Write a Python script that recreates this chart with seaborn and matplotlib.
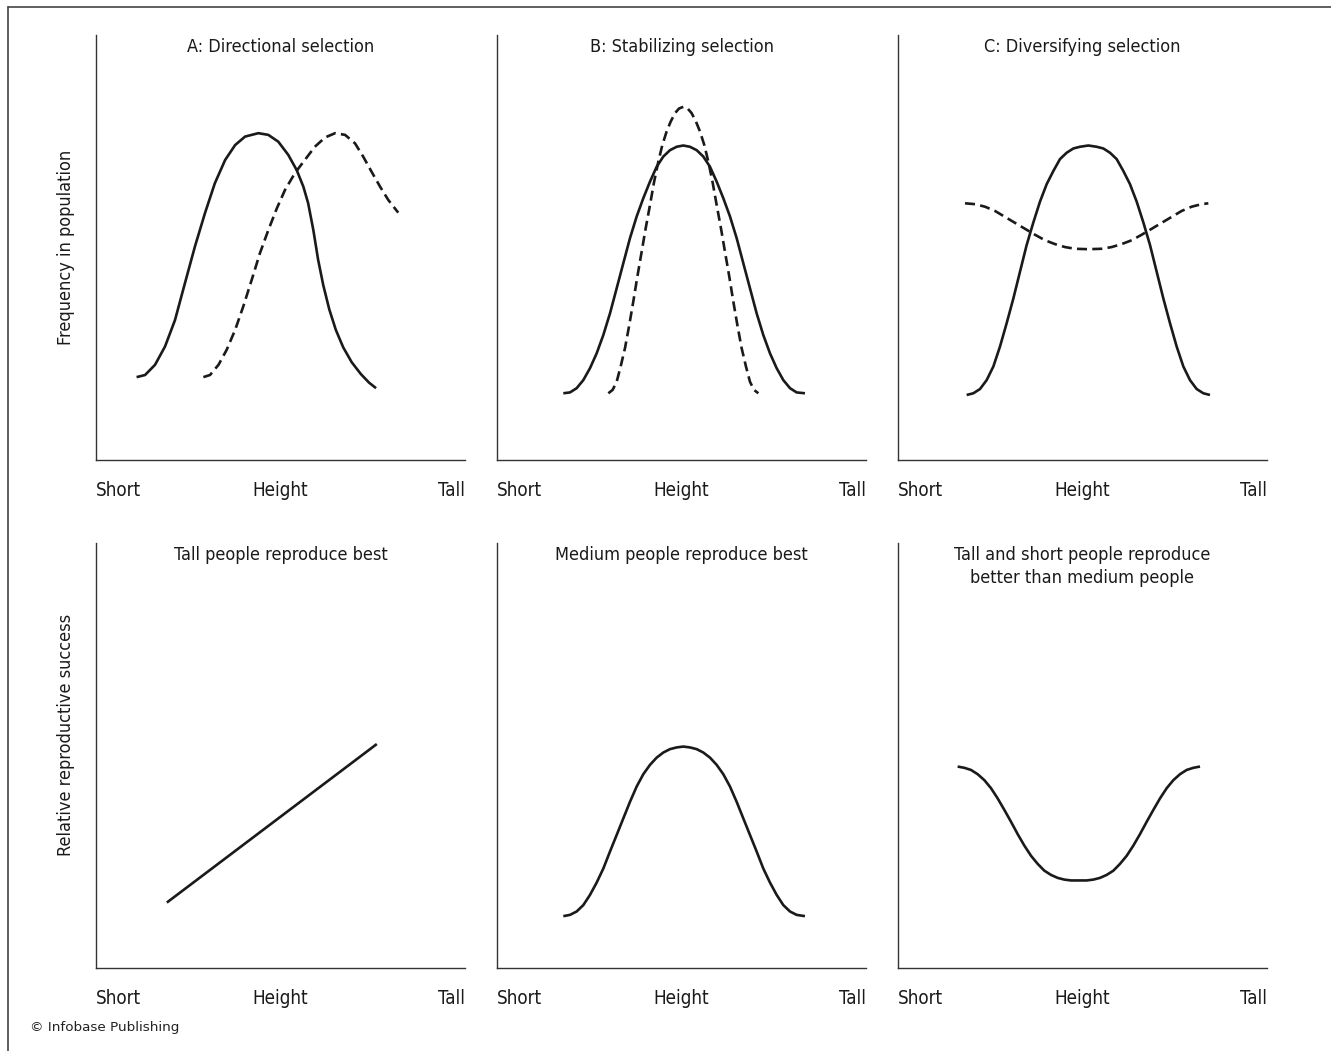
import matplotlib
matplotlib.use("Agg")
import matplotlib.pyplot as plt
from matplotlib.lines import Line2D
import seaborn as sns
import pandas as pd

# Height axis runs 0 (short) .. 100 (tall); y axis is a relative 0..100 scale.

# --- A: Directional selection ---------------------------------------------
a_before_x = [11.0, 13.3, 16.0, 18.7, 21.4, 24.1, 26.8, 29.5, 32.2, 35.0,
              37.7, 40.4, 44.0, 46.7, 49.4, 52.1, 54.4, 56.2, 57.5, 58.9,
              60.2, 61.6, 63.2, 65.0, 67.0, 69.3, 71.8, 74.0, 75.9]
a_before_y = [19.5, 20.0, 22.4, 26.7, 32.9, 41.6, 50.2, 58.0, 65.1, 70.6,
              74.1, 76.1, 76.9, 76.5, 74.9, 71.8, 68.2, 64.3, 60.4, 54.1,
              47.1, 41.1, 35.5, 30.6, 26.5, 23.0, 20.2, 18.2, 16.9]
a_after_x = [29.1, 30.9, 33.2, 35.4, 37.7, 39.9, 42.2, 44.4, 46.7, 49.0,
             51.2, 53.9, 56.6, 59.3, 62.1, 64.8, 67.5, 70.2, 72.4, 74.7,
             77.0, 79.2, 81.9]
a_after_y = [19.5, 20.0, 22.4, 25.9, 30.6, 36.1, 42.4, 48.6, 54.1, 59.2,
             63.5, 67.5, 70.6, 73.7, 75.9, 76.9, 76.5, 74.5, 71.4, 67.8,
             64.3, 61.2, 58.2]

# --- B: Stabilizing selection ---------------------------------------------
b_before_x = [17.97, 19.78, 21.59, 23.39, 25.20, 27.01, 28.81, 30.62, 32.43,
              34.23, 36.04, 37.85, 39.65, 41.46, 43.27, 45.07, 46.88, 48.69,
              50.49, 52.30, 54.11, 55.91, 57.72, 59.53, 61.33, 63.14, 64.95,
              66.75, 68.56, 70.37, 72.17, 73.98, 75.79, 77.59, 79.40, 81.20,
              83.46]
b_before_y = [15.7, 15.9, 16.9, 18.8, 21.6, 25.1, 29.4, 34.5, 40.4,
              46.3, 52.2, 57.3, 61.6, 65.5, 69.0, 71.4, 72.9, 73.7,
              74.0, 73.7, 72.9, 71.4, 69.0, 65.5, 61.6, 57.3, 52.2,
              46.3, 40.4, 34.5, 29.4, 25.1, 21.6, 18.8, 16.9, 15.9,
              15.7]
b_after_x = [30.17, 31.34, 32.43, 33.51, 34.68, 35.77, 36.94, 38.03, 39.20,
             40.29, 41.46, 42.54, 43.72, 44.80, 45.97, 47.06, 48.23, 49.32,
             50.49, 51.67, 52.75, 53.93, 55.01, 56.18, 57.27, 58.44, 59.53,
             60.70, 61.78, 62.96, 64.04, 65.21, 66.30, 67.47, 68.56, 69.64,
             70.82]
b_after_y = [15.7, 16.5, 18.4, 22.0, 26.3, 31.4, 37.3, 43.1, 49.0,
             54.5, 60.0, 65.3, 70.2, 74.1, 77.3, 79.6, 81.6, 82.7,
             83.1, 82.7, 81.6, 79.6, 77.3, 74.1, 70.2, 65.3, 60.0,
             54.5, 49.0, 43.1, 37.3, 31.4, 26.3, 22.0, 18.4, 16.5,
             15.7]

# --- C: Diversifying selection --------------------------------------------
c_before_x = [18.61, 20.42, 22.22, 24.03, 25.84, 27.64, 29.45, 31.26, 33.06,
              34.87, 36.68, 38.48, 40.29, 42.10, 43.90, 45.71, 47.52, 49.32,
              51.58, 53.84, 55.65, 57.45, 59.26, 61.07, 62.87, 64.68, 66.49,
              68.29, 70.10, 71.91, 73.71, 75.52, 77.33, 79.13, 80.94, 82.75,
              84.55]
c_before_y = [15.3, 15.7, 16.7, 18.8, 22.0, 26.7, 32.2, 38.0, 44.3,
              50.6, 55.9, 60.8, 64.9, 68.0, 70.8, 72.3, 73.3, 73.7,
              74.0, 73.7, 73.3, 72.3, 70.8, 68.0, 64.9, 60.8, 55.9,
              50.6, 44.3, 38.0, 32.2, 26.7, 22.0, 18.8, 16.7, 15.7,
              15.3]
c_after_x = [18.16, 20.87, 23.58, 26.29, 29.00, 31.71, 34.42, 37.13, 39.84,
             42.55, 45.26, 47.97, 51.58, 55.19, 57.90, 60.61, 63.32, 66.03,
             68.74, 71.45, 74.16, 76.87, 79.58, 82.29, 84.10]
c_after_y = [60.4, 60.2, 59.6, 58.6, 57.2, 55.8, 54.4, 53.0, 51.7,
             50.8, 50.1, 49.7, 49.6, 49.7, 50.1, 50.8, 51.7, 53.0,
             54.4, 55.8, 57.2, 58.6, 59.6, 60.2, 60.4]

# --- Relative reproductive success ----------------------------------------
d_x = [19.2, 76.1]
d_y = [15.4, 52.7]
e_x = [17.97, 19.78, 21.59, 23.39, 25.20, 27.01, 28.81, 30.62, 32.43,
       34.23, 36.04, 37.85, 39.65, 41.46, 43.27, 45.07, 46.88, 48.69,
       50.49, 52.30, 54.11, 55.91, 57.72, 59.53, 61.33, 63.14, 64.95,
       66.75, 68.56, 70.37, 72.17, 73.98, 75.79, 77.59, 79.40, 81.20,
       83.46]
e_y = [12.2, 12.5, 13.3, 14.8, 17.2, 20.1, 23.4, 27.4, 31.3,
       35.2, 39.1, 42.7, 45.6, 47.8, 49.5, 50.7, 51.5, 51.9,
       52.1, 51.9, 51.5, 50.7, 49.5, 47.8, 45.6, 42.7, 39.1,
       35.2, 31.3, 27.4, 23.4, 20.1, 17.2, 14.8, 13.3, 12.5,
       12.2]
f_x = [16.17, 17.98, 19.79, 21.59, 23.40, 25.21, 27.01, 28.82, 30.63,
       32.43, 34.24, 36.05, 37.85, 39.66, 41.47, 43.27, 45.08, 46.89,
       48.87, 51.13, 52.94, 54.74, 56.55, 58.36, 60.16, 61.97, 63.78,
       65.58, 67.39, 69.20, 71.00, 72.81, 74.62, 76.42, 78.23, 80.04,
       81.85]
f_y = [47.4, 47.1, 46.6, 45.6, 44.2, 42.3, 39.9, 37.2, 34.4,
       31.5, 28.8, 26.4, 24.5, 22.9, 21.9, 21.2, 20.8, 20.6,
       20.6, 20.6, 20.8, 21.2, 21.9, 22.9, 24.5, 26.4, 28.8,
       31.5, 34.4, 37.2, 39.9, 42.3, 44.2, 45.6, 46.6, 47.1,
       47.4]

top_titles = ["A: Directional selection", "B: Stabilizing selection",
              "C: Diversifying selection"]
bottom_titles = ["Tall people reproduce best", "Medium people reproduce best",
                 "Tall and short people reproduce\nbetter than medium people"]
tick_labels = ["Short", "Height", "Tall"]
tick_positions = [0, 50, 100]
row_ylabels = ["Frequency in population", "Relative reproductive success"]

sns.set_theme(style="white")
plt.rcParams["font.family"] = ["DejaVu Sans"]
plt.rcParams["font.stretch"] = "condensed"

W, H = 1331, 1051
fig = plt.figure(figsize=(W / 100, H / 100), dpi=100)
fig.patch.set_facecolor("white")

ink = "#1a1a1a"
lw = 1.9
dash = (0, (3.8, 2.0))

col_left = [96, 497, 898]
ax_w, ax_h = 369, 425
row_bottom = [460, 968]

panels_top = [
    [(a_before_x, a_before_y, "-"), (a_after_x, a_after_y, dash)],
    [(b_before_x, b_before_y, "-"), (b_after_x, b_after_y, dash)],
    [(c_before_x, c_before_y, "-"), (c_after_x, c_after_y, dash)],
]
panels_bottom = [
    [(d_x, d_y, "-")],
    [(e_x, e_y, "-")],
    [(f_x, f_y, "-")],
]

for r, (panels, titles) in enumerate([(panels_top, top_titles),
                                      (panels_bottom, bottom_titles)]):
    for c in range(3):
        ax = fig.add_axes([col_left[c] / W, 1 - row_bottom[r] / H,
                           ax_w / W, ax_h / H])
        for xs, ys, ls in panels[c]:
            df = pd.DataFrame({"height": xs, "value": ys})
            sns.lineplot(data=df, x="height", y="value", ax=ax, color=ink,
                         linewidth=lw, linestyle=ls, sort=False,
                         solid_capstyle="butt", dash_capstyle="butt",
                         solid_joinstyle="round")
        ax.set_xlim(0, 100)
        ax.set_ylim(0, 100)
        ax.set_facecolor("white")
        for side in ["top", "right"]:
            ax.spines[side].set_visible(False)
        for side in ["left", "bottom"]:
            ax.spines[side].set_color("#333333")
            ax.spines[side].set_linewidth(1.0)
        ax.set_yticks([])
        ax.set_xticks(tick_positions)
        ax.set_xticklabels(tick_labels, fontsize=13.5, color=ink)
        for lab, ha in zip(ax.get_xticklabels(), ["left", "center", "right"]):
            lab.set_ha(ha)
        ax.tick_params(axis="x", length=0, pad=15)
        ax.set_xlabel("")
        ax.set_ylabel("")
        ax.set_title(titles[c], fontsize=13, color=ink, y=0.993, pad=0,
                     va="top", linespacing=1.35)
        if c == 0:
            ax.set_ylabel(row_ylabels[r], fontsize=13, color=ink)
            ax.yaxis.set_label_coords(-0.058, 0.5 if r == 0 else 0.548)

# outer frame on the left and top edges
fig.add_artist(Line2D([8 / W, 8 / W], [0, 1 - 7 / H], transform=fig.transFigure,
                      color="#444444", linewidth=1.2))
fig.add_artist(Line2D([8 / W, 1], [1 - 7 / H, 1 - 7 / H], transform=fig.transFigure,
                      color="#444444", linewidth=1.2))

fig.text(30 / W, 1 - 1028 / H, "\u00a9 Infobase Publishing", fontsize=9.7,
         color="#222222", va="center", ha="left", fontstretch="normal")

fig.savefig("out.png", dpi=100, facecolor="white")
